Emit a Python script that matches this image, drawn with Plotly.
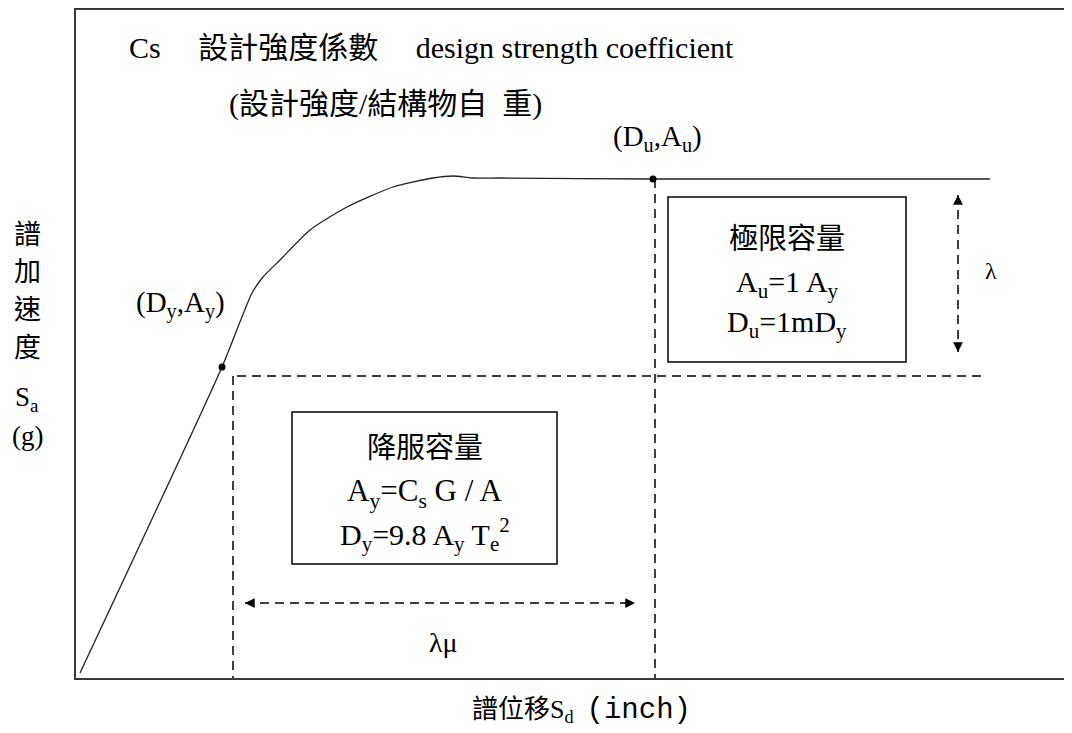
import plotly.graph_objects as go

# ---- data (schematic units) ----
curve_sd = [0.04, 1.46, 1.76, 1.87, 2.04, 2.34, 2.71, 3.17, 3.57, 3.77, 3.97, 4.24, 5.77, 9.14]
curve_sa = [0.05, 3.11, 3.85, 4.01, 4.18, 4.48, 4.71, 4.91, 5.00, 5.02, 5.00, 5.00, 4.99, 4.99]

yield_pt = (1.46, 3.11)      # (Dy, Ay)
ult_pt = (5.77, 4.99)        # (Du, Au)

h_dash_y = 3.02
h_dash_x = [1.61, 9.07]
v_dash_yield_x = 1.57
v_dash_ult_x = 5.79

lam_x = 8.82
lam_y = [4.83, 3.26]
lammu_y = 0.75
lammu_x = [1.69, 5.59]

box_ult = [5.92, 8.30, 3.16, 4.81]
box_yield = [2.16, 4.81, 1.14, 2.66]

ylabel_chars = ["譜", "加", "速", "度", "S<sub>a</sub>", "(g)"]
ylabel_pos = [4.43, 4.06, 3.68, 3.30, 2.79, 2.42]

X_RANGE = [0, 9.96]
Y_RANGE = [0, 6.68]

FONT = "Liberation Serif, 'Noto Sans CJK TC', serif"
NB = "\u00a0"

fig = go.Figure()

fig.add_trace(go.Scatter(x=curve_sd, y=curve_sa, mode="lines",
                         line=dict(color="#222222", width=1.3, shape="spline", smoothing=0.6),
                         hoverinfo="skip"))
fig.add_trace(go.Scatter(x=[yield_pt[0], ult_pt[0]], y=[yield_pt[1], ult_pt[1]], mode="markers",
                         marker=dict(color="black", size=7), hoverinfo="skip"))

dash = "9px,6px"
def dline(xs, ys):
    fig.add_trace(go.Scatter(x=xs, y=ys, mode="lines",
                             line=dict(color="black", width=1.5, dash=dash), hoverinfo="skip"))

dline(h_dash_x, [h_dash_y, h_dash_y])
dline([v_dash_yield_x, v_dash_yield_x], [h_dash_y, 0])
dline([v_dash_ult_x, v_dash_ult_x], [ult_pt[1], 0])
dline([lam_x, lam_x], lam_y)
dline(lammu_x, [lammu_y, lammu_y])

def arrow(x, y, ax, ay):
    fig.add_annotation(x=x, y=y, ax=ax, ay=ay, xref="x", yref="y", axref="x", ayref="y",
                       text="", showarrow=True, arrowhead=2, arrowsize=1.3, arrowwidth=1.5,
                       arrowcolor="black")

arrow(lam_x, lam_y[0], lam_x, lam_y[0] - 0.1)
arrow(lam_x, lam_y[1], lam_x, lam_y[1] + 0.1)
arrow(lammu_x[0], lammu_y, lammu_x[0] + 0.1, lammu_y)
arrow(lammu_x[1], lammu_y, lammu_x[1] - 0.1, lammu_y)

for b in (box_ult, box_yield):
    fig.add_shape(type="rect", x0=b[0], x1=b[1], y0=b[2], y1=b[3], xref="x", yref="y",
                  line=dict(color="black", width=1.5))

def txt(x, y, s, size=29, xanchor="center", yanchor="middle", outside=False):
    if outside:
        # convert schematic coordinates to paper fractions so text outside the frame is kept
        px = (x - X_RANGE[0]) / (X_RANGE[1] - X_RANGE[0])
        py = (y - Y_RANGE[0]) / (Y_RANGE[1] - Y_RANGE[0])
        fig.add_annotation(x=px, y=py, xref="paper", yref="paper", text=s, showarrow=False,
                           xanchor=xanchor, yanchor=yanchor,
                           font=dict(family=FONT, size=size, color="black"))
    else:
        fig.add_annotation(x=x, y=y, xref="x", yref="y", text=s, showarrow=False,
                           xanchor=xanchor, yanchor=yanchor,
                           font=dict(family=FONT, size=size, color="black"))

txt(0.51, 6.31, "Cs" + NB * 5 + "設計強度係數" + NB * 5 + "design strength coefficient",
    size=30, xanchor="left")
txt(1.51, 5.74, "(設計強度/結構物自" + NB * 2 + "重)", size=30, xanchor="left")

txt(1.04, 3.74, "(D<sub>y</sub>,A<sub>y</sub>)")
txt(5.81, 5.40, "(D<sub>u</sub>,A<sub>u</sub>)")

cx_u = (box_ult[0] + box_ult[1]) / 2
txt(cx_u, 4.39, "極限容量")
txt(cx_u, 3.94, "A<sub>u</sub>=1 A<sub>y</sub>", size=30)
txt(cx_u, 3.54, "D<sub>u</sub>=1mD<sub>y</sub>", size=30)

cx_y = (box_yield[0] + box_yield[1]) / 2
txt(cx_y, 2.30, "降服容量")
txt(cx_y, 1.85, "A<sub>y</sub>=C<sub>s</sub> G / A", size=31)
txt(cx_y, 1.44, "D<sub>y</sub>=9.8 A<sub>y</sub> T<sub>e</sub><sup>2</sup>", size=30)

txt(9.15, 4.07, "λ", size=24)
txt(3.67, 0.36, "λμ", size=28)

txt(5.05, -0.32,
    "譜位移S<sub>d</sub>" + NB * 2
    + "<span style=\"font-family:'Liberation Mono';font-size:29px\">(inch)</span>",
    size=26, outside=True)

for ch, yp in zip(ylabel_chars, ylabel_pos):
    txt(-0.49, yp, ch, size=27, outside=True)

# page body has an 8px default margin; compensate so the frame lands where the reference has it
fig.update_layout(
    width=1064, height=725,
    margin=dict(l=68, r=0, t=2, b=55),
    paper_bgcolor="white", plot_bgcolor="white",
    showlegend=False,
    xaxis=dict(range=X_RANGE, showgrid=False, zeroline=False, showticklabels=False, ticks="",
               showline=True, linecolor="#3a3a3a", linewidth=2, mirror=True, fixedrange=True),
    yaxis=dict(range=Y_RANGE, showgrid=False, zeroline=False, showticklabels=False, ticks="",
               showline=True, linecolor="#3a3a3a", linewidth=2, mirror=False, fixedrange=True),
)

fig.write_html("out.html")
